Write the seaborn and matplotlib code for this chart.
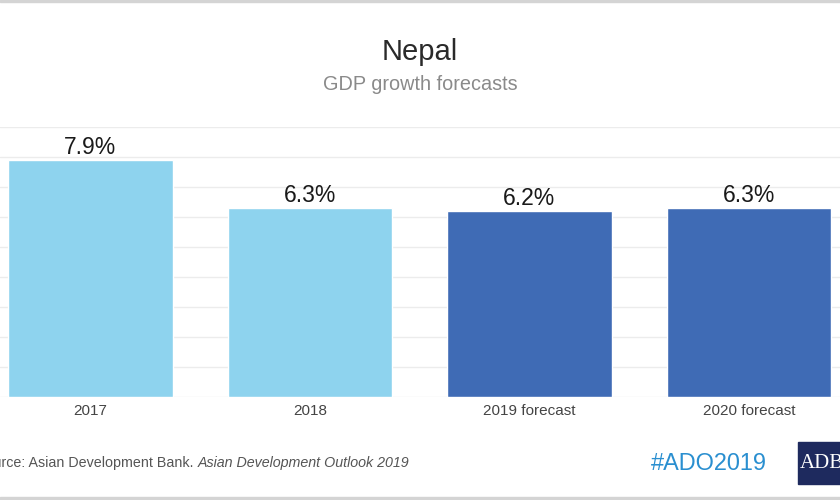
import numpy as np
import matplotlib
matplotlib.use('Agg')
import matplotlib.pyplot as plt
import matplotlib.patches as mpatches
import pandas as pd
import seaborn as sns

# values
years = ['2017', '2018', '2019 forecast', '2020 forecast']
growth = [7.9, 6.3, 6.2, 6.3]
kind = ['actual', 'actual', 'forecast', 'forecast']
labels = ['7.9%', '6.3%', '6.2%', '6.3%']

df = pd.DataFrame({'year': years, 'growth': growth, 'kind': kind})

sns.set_theme(style='white')
plt.rcParams['font.family'] = ['Liberation Sans', 'DejaVu Sans']

fig = plt.figure(figsize=(8.4, 5), dpi=100)
ax = fig.add_axes([0, 0.206, 1, 0.54])

sns.barplot(data=df, x='year', y='growth', hue='kind',
            palette={'actual': '#8ed3ee', 'forecast': '#3f6bb5'},
            width=0.75, dodge=False, legend=False, ax=ax, saturation=1)

for i, (v, t) in enumerate(zip(growth, labels)):
    ax.annotate(t, (i, v), xytext=(0, 1), textcoords='offset points',
                ha='center', va='bottom', fontsize=16.5, color='#1a1a1a')

ax.set_xlim(-0.412, 3.415)
ax.set_ylim(0, 9)
ax.set_yticks(np.arange(0, 10, 1))
ax.set_yticklabels([])
ax.yaxis.grid(True, color='#ececec', linewidth=1)
ax.set_axisbelow(True)
ax.tick_params(axis='y', length=0)
ax.tick_params(axis='x', length=0, pad=5, labelsize=11, labelcolor='#444444')
ax.set_xticks([0.5, 1.5, 2.5], minor=True)
ax.tick_params(axis='x', which='minor', length=4, color='#e6e6e6', width=1)
ax.set_xlabel('')
ax.set_ylabel('')
for s in ax.spines.values():
    s.set_visible(False)

fig.text(0.5, 0.896, 'Nepal', ha='center', va='center', fontsize=21, color='#2a2a2a')
fig.text(0.5, 0.830, 'GDP growth forecasts', ha='center', va='center', fontsize=14.3, color='#8a8a8a')

src = fig.text(-0.028, 0.074, 'Source: Asian Development Bank. ', ha='left', va='center',
               fontsize=10.3, color='#555555')
fig.canvas.draw()
bb = src.get_window_extent()
fig.text(bb.x1 / fig.bbox.width, 0.074, 'Asian Development Outlook 2019', ha='left',
         va='center', fontsize=10.3, color='#555555', style='italic')

fig.text(0.775, 0.074, '#ADO2019', ha='left', va='center', fontsize=16.9, color='#2a8fd0')

fig.patches.append(mpatches.Rectangle((798 / 840, 16 / 500), 45 / 840, 42 / 500,
                                      transform=fig.transFigure, color='#1e2a5e'))
fig.text(800 / 840, 37 / 500, 'ADB', ha='left', va='center', fontsize=15,
         color='white', family=['Liberation Serif', 'DejaVu Serif'])

fig.patches.append(mpatches.Rectangle((0, 0), 1, 3 / 500, transform=fig.transFigure,
                                      color='#d4d4d4'))
fig.patches.append(mpatches.Rectangle((0, 498 / 500), 1, 2 / 500, transform=fig.transFigure,
                                      color='#d4d4d4'))

fig.savefig('out.png', dpi=100)
